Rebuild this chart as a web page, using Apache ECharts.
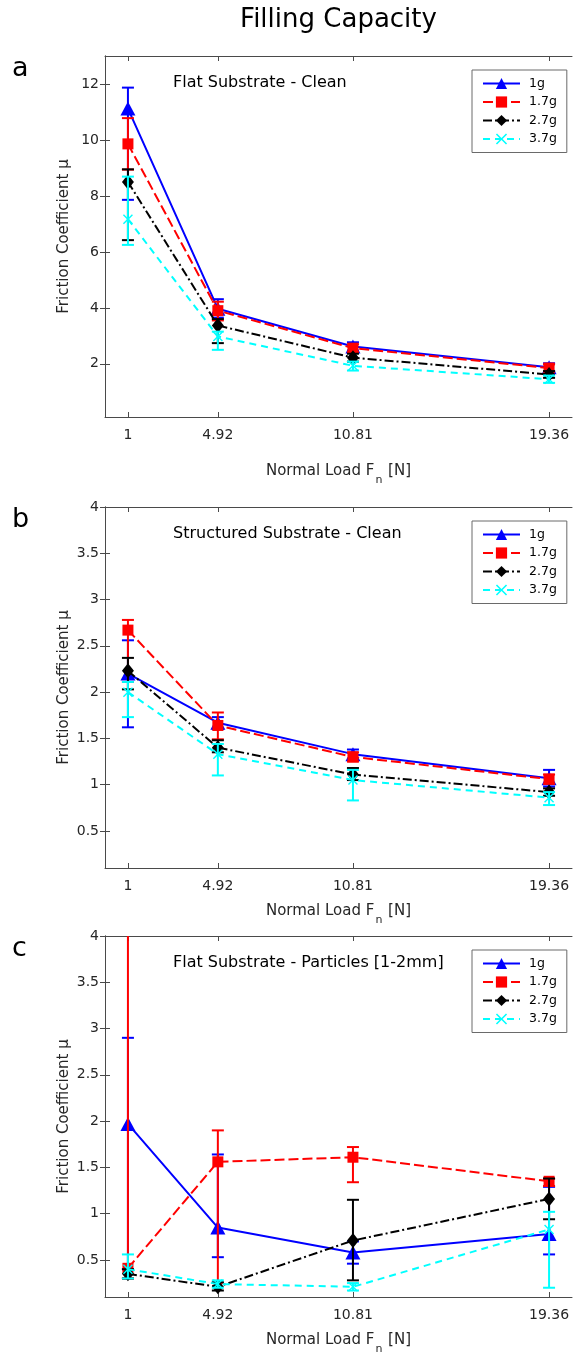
<!DOCTYPE html>
<html>
<head>
<meta charset="utf-8">
<script src="https://cdn.jsdelivr.net/npm/echarts@6/dist/echarts.min.js"></script>
<style>
  html, body { margin: 0; padding: 0; background: #fff; }
  #main { width: 573px; height: 1358px; }
</style>
</head>
<body>
<div id="main"></div>
<script>
// Normal loads [N] and the filling masses of the tested samples
const loads = [1, 4.92, 10.81, 19.36];
const loadTicks = [1, 4.92, 10.81, 19.36];
const masses = ['1g', '1.7g', '2.7g', '3.7g'];

// Panel a: flat substrate, clean (rows = masses, cols = loads)
const flatCleanMean = [
  [11.12, 3.97, 2.62, 1.88],
  [9.86, 3.90, 2.56, 1.85],
  [8.50, 3.37, 2.22, 1.62],
  [7.17, 2.98, 1.93, 1.45]
];
const flatCleanLow = [
  [7.86, 3.65, 2.47, 1.74],
  [8.94, 3.55, 2.42, 1.72],
  [6.42, 2.74, 2.08, 1.50],
  [6.25, 2.50, 1.76, 1.32]
];
const flatCleanHigh = [
  [11.87, 4.31, 2.77, 2.02],
  [10.78, 4.22, 2.70, 1.98],
  [8.95, 3.60, 2.36, 1.74],
  [8.69, 3.15, 2.08, 1.58]
];
const flatCleanTicks = [2, 4, 6, 8, 10, 12];

// Panel b: structured substrate, clean
const structCleanMean = [
  [2.20, 1.67, 1.33, 1.07],
  [2.67, 1.64, 1.30, 1.06],
  [2.23, 1.40, 1.11, 0.92],
  [2.00, 1.33, 1.05, 0.86]
];
const structCleanLow = [
  [1.62, 1.60, 1.28, 0.98],
  [2.11, 1.49, 1.25, 1.01],
  [2.03, 1.35, 1.05, 0.88],
  [1.73, 1.10, 0.83, 0.78]
];
const structCleanHigh = [
  [2.56, 1.73, 1.38, 1.16],
  [2.78, 1.78, 1.35, 1.11],
  [2.37, 1.48, 1.18, 0.96],
  [2.11, 1.44, 1.16, 0.92]
];

// Panel c: flat substrate with particles [1-2mm]
const flatPartMean = [
  [1.97, 0.85, 0.58, 0.78],
  [0.41, 1.56, 1.61, 1.35],
  [0.35, 0.21, 0.71, 1.16],
  [0.40, 0.24, 0.21, 0.83]
];
const flatPartLow = [
  [0.40, 0.53, 0.46, 0.56],
  [0.30, 0.25, 1.34, 1.30],
  [0.30, 0.17, 0.28, 0.94],
  [0.30, 0.20, 0.17, 0.20]
];
const flatPartHigh = [
  [2.90, 1.64, 0.70, 1.29],
  [5.20, 1.90, 1.72, 1.38],
  [0.40, 0.26, 1.15, 1.38],
  [0.56, 0.28, 0.25, 1.02]
];
const smallTicks = [0.5, 1, 1.5, 2, 2.5, 3, 3.5, 4];

// ---- styling ----
const FONT = '"DejaVu Sans", "Liberation Sans", sans-serif';
const AXIS_COLOR = '#4a4a4a';
const TEXT_COLOR = '#262626';
const colors = ['#0000ff', '#ff0000', '#000000', '#00ffff'];
const dashes = ['solid', [10, 4], [9, 3, 2, 3], [7, 5]];
const crossPath = 'path://M1,0 L5,4 L9,0 L10,1 L6,5 L10,9 L9,10 L5,6 L1,10 L0,9 L4,5 L0,1 Z';
const symbols = ['triangle', 'rect', 'diamond', crossPath];
const symbolSizes = [[15, 14], 11, [12, 15], 10];

const panels = [
  { letter: 'a', note: 'Flat Substrate - Clean', top: 56, yMin: 0.1, yMax: 13, ticks: flatCleanTicks,
    mean: flatCleanMean, low: flatCleanLow, high: flatCleanHigh },
  { letter: 'b', note: 'Structured Substrate - Clean', top: 507, yMin: 0.1, yMax: 4, ticks: smallTicks,
    mean: structCleanMean, low: structCleanLow, high: structCleanHigh },
  { letter: 'c', note: 'Flat Substrate - Particles [1-2mm]', top: 936, yMin: 0.1, yMax: 4, ticks: smallTicks,
    mean: flatPartMean, low: flatPartLow, high: flatPartHigh }
];

const GRID_LEFT = 105;
const GRID_W = 467;
const GRID_H = 361;
const X_MIN = 0;
const X_MAX = 20.36;

// vertical error bar with caps, clipped to the plotting box
function errorBarRenderer(color) {
  return function (params, api) {
    const x = api.value(0);
    const lo = api.coord([x, api.value(1)]);
    const hi = api.coord([x, api.value(2)]);
    const cs = params.coordSys;
    const top = cs.y, bottom = cs.y + cs.height;
    const px = lo[0];
    const y1 = Math.min(lo[1], bottom);
    const y2 = Math.max(hi[1], top);
    const st = { stroke: color, lineWidth: 2 };
    const children = [{ type: 'line', shape: { x1: px, y1: y1, x2: px, y2: y2 }, style: st }];
    const half = 6;
    if (lo[1] <= bottom) children.push({ type: 'line', shape: { x1: px - half, y1: lo[1], x2: px + half, y2: lo[1] }, style: st });
    if (hi[1] >= top) children.push({ type: 'line', shape: { x1: px - half, y1: hi[1], x2: px + half, y2: hi[1] }, style: st });
    return { type: 'group', children: children };
  };
}

const grids = [], xAxes = [], yAxes = [], series = [], legends = [], graphics = [];

// text width helper for positioning the composite axis label
const measureCtx = document.createElement('canvas').getContext('2d');
function textWidth(str, size) {
  measureCtx.font = size + 'px ' + FONT;
  return measureCtx.measureText(str).width;
}

panels.forEach(function (p, gi) {
  grids.push({ left: GRID_LEFT, top: p.top, width: GRID_W, height: GRID_H });

  const axisLine = { show: true, lineStyle: { color: AXIS_COLOR, width: 1 } };
  // bottom x axis with labels
  xAxes.push({
    type: 'value', gridIndex: gi, min: X_MIN, max: X_MAX, position: 'bottom',
    splitLine: { show: false }, axisLine: axisLine,
    axisTick: { inside: true, length: 5, lineStyle: { color: AXIS_COLOR }, customValues: loadTicks },
    axisLabel: { customValues: loadTicks, color: TEXT_COLOR, fontFamily: FONT, fontSize: 14, margin: 11,
      formatter: function (v) { return String(v); } }
  });
  // top x axis (box edge with mirrored ticks)
  xAxes.push({
    type: 'value', gridIndex: gi, min: X_MIN, max: X_MAX, position: 'top',
    splitLine: { show: false }, axisLine: axisLine,
    axisTick: { inside: true, length: 5, lineStyle: { color: AXIS_COLOR }, customValues: loadTicks },
    axisLabel: { show: false }
  });
  yAxes.push({
    type: 'value', gridIndex: gi, min: p.yMin, max: p.yMax, position: 'left',
    splitLine: { show: false }, axisLine: axisLine,
    axisTick: { inside: true, length: 5, lineStyle: { color: AXIS_COLOR }, customValues: p.ticks },
    axisLabel: { customValues: p.ticks, color: TEXT_COLOR, fontFamily: FONT, fontSize: 14, margin: 6 }
  });
  yAxes.push({
    type: 'value', gridIndex: gi, min: p.yMin, max: p.yMax, position: 'right',
    splitLine: { show: false }, axisLine: axisLine,
    axisTick: { inside: true, length: 5, lineStyle: { color: AXIS_COLOR }, customValues: p.ticks },
    axisLabel: { show: false }
  });

  const xi = gi * 2, yi = gi * 2;
  masses.forEach(function (m, si) {
    series.push({
      type: 'custom', xAxisIndex: xi, yAxisIndex: yi,
      renderItem: errorBarRenderer(colors[si]),
      encode: { x: 0, y: 1 },
      data: loads.map(function (x, k) { return [x, p.low[si][k], p.high[si][k]]; }),
      silent: true, z: 2 + si * 2
    });
    series.push({
      type: 'line', name: m, xAxisIndex: xi, yAxisIndex: yi,
      data: loads.map(function (x, k) { return [x, p.mean[si][k]]; }),
      symbol: symbols[si], symbolSize: symbolSizes[si], showAllSymbol: true,
      color: colors[si],
      lineStyle: { color: colors[si], width: 2, type: dashes[si] },
      itemStyle: { color: colors[si], borderWidth: 0 },
      z: 3 + si * 2, silent: true
    });
  });

  legends.push({
    data: masses, orient: 'vertical', left: 472, top: p.top + 14,
    padding: [7, 10, 7, 10], itemWidth: 37, itemHeight: 14, itemGap: 5.5,
    borderColor: '#6a6a6a', borderWidth: 1, backgroundColor: '#fff',
    textStyle: { fontFamily: FONT, fontSize: 12.5, color: '#000', padding: [0, 0, 0, 4] },
    selectedMode: false
  });

  // panel letter
  graphics.push({ type: 'text', left: 12, top: p.top - 1,
    style: { text: p.letter, font: '27px ' + FONT, fill: '#000' } });
  // annotation inside the axes
  graphics.push({ type: 'text', x: 173, y: p.top + 27,
    style: { text: p.note, font: '16px ' + FONT, fill: '#000', align: 'left', verticalAlign: 'middle' } });
  // y axis title
  graphics.push({ type: 'text', x: 64, y: p.top + GRID_H / 2, rotation: Math.PI / 2,
    style: { text: 'Friction Coefficient μ', font: '15px ' + FONT, fill: TEXT_COLOR, align: 'center', verticalAlign: 'middle' } });
  // x axis title with subscript
  const w1 = textWidth('Normal Load F', 15), wn = textWidth('n', 11), w3 = textWidth(' [N]', 15);
  const x0 = GRID_LEFT + GRID_W / 2 - (w1 + wn + 2 + w3) / 2;
  const yl = p.top + GRID_H + (gi === 0 ? 54 : 43);
  graphics.push({ type: 'text', x: x0, y: yl,
    style: { text: 'Normal Load F', font: '15px ' + FONT, fill: TEXT_COLOR, align: 'left', verticalAlign: 'middle' } });
  graphics.push({ type: 'text', x: x0 + w1 + 1, y: yl + 9,
    style: { text: 'n', font: '11px ' + FONT, fill: TEXT_COLOR, align: 'left', verticalAlign: 'middle' } });
  graphics.push({ type: 'text', x: x0 + w1 + wn + 2, y: yl,
    style: { text: ' [N]', font: '15px ' + FONT, fill: TEXT_COLOR, align: 'left', verticalAlign: 'middle' } });
});

graphics.push({ type: 'text', x: GRID_LEFT + GRID_W / 2, y: 20,
  style: { text: 'Filling Capacity', font: '26px ' + FONT, fill: '#000', align: 'center', verticalAlign: 'middle' } });

const chart = echarts.init(document.getElementById('main'), null, { renderer: 'canvas', width: 573, height: 1358 });
chart.setOption({
  animation: false,
  backgroundColor: '#ffffff',
  grid: grids,
  xAxis: xAxes,
  yAxis: yAxes,
  legend: legends,
  series: series,
  graphic: graphics
});
</script>
</body>
</html>
